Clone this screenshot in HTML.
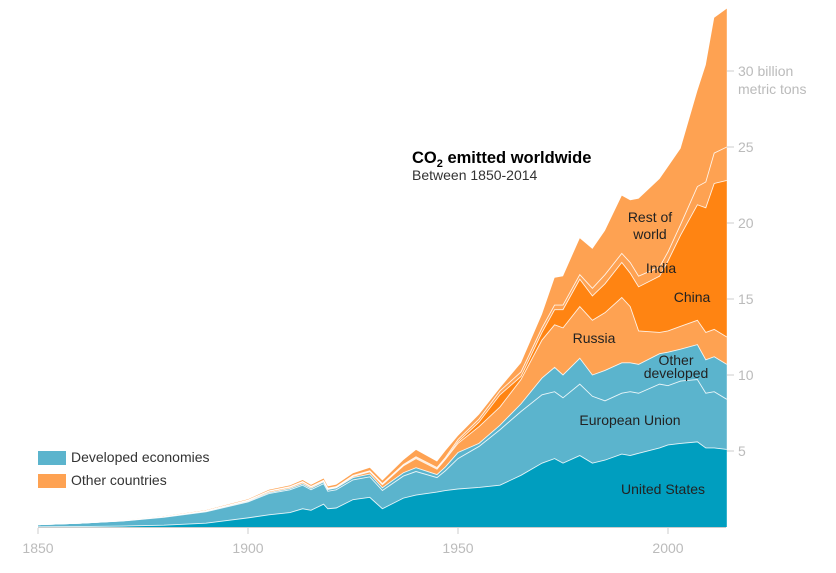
<!DOCTYPE html>
<html><head><meta charset="utf-8"><style>
body{margin:0;background:#fff;width:836px;height:568px;overflow:hidden;font-family:"Liberation Sans",sans-serif}
svg text{font-family:"Liberation Sans",sans-serif}
</style></head><body>
<svg id="chart" width="836" height="568"></svg>
<script>
const years=[1850,1860,1870,1880,1890,1900,1905,1910,1913,1915,1918,1919,1921,1925,1929,1932,1937,1940,1945,1947,1950,1955,1960,1965,1970,1973,1975,1979,1982,1985,1989,1991,1993,1998,2000,2003,2007,2009,2011,2014];
const usValues=[.01,.03,.06,.12,.25,.6,.8,.95,1.2,1.1,1.5,1.2,1.25,1.8,1.95,1.2,1.9,2.1,2.3,2.4,2.5,2.6,2.75,3.4,4.2,4.5,4.2,4.7,4.2,4.4,4.8,4.7,4.85,5.2,5.4,5.5,5.6,5.2,5.2,5.1];
const euValues=[.14,.22,.33,.52,.75,1.05,1.4,1.5,1.55,1.35,1.35,1.15,1.2,1.3,1.35,1.2,1.45,1.55,.95,1.3,2.0,2.7,3.65,4.2,4.5,4.4,4.3,4.7,4.4,3.9,4.0,4.2,3.95,4.2,3.9,4.1,4.1,3.6,3.7,3.3];
const otherDevValues=[0,.005,.01,.02,.03,.05,.07,.09,.1,.1,.12,.12,.12,.15,.18,.18,.22,.25,.2,.25,.4,.2,.3,.5,1.1,1.6,1.5,1.7,1.4,2.0,2.0,1.9,1.9,2.0,2.2,2.1,2.3,2.2,2.3,2.3];
const russiaValues=[0,0,.005,.01,.03,.05,.08,.08,.1,.08,.05,.03,.03,.08,.15,.2,.45,.6,.35,.5,.6,1.1,1.2,1.6,2.5,2.8,3.1,3.4,3.6,3.8,4.3,3.7,2.2,1.4,1.4,1.5,1.6,1.8,1.8,1.8];
const chinaValues=[0,0,0,0,0,.005,.01,.01,.01,.01,.02,.02,.02,.02,.03,.03,.04,.06,.05,.05,.1,.3,.8,.2,.5,1.0,1.2,1.8,1.6,1.9,2.3,2.2,2.9,3.7,4.6,6.0,7.6,8.2,9.6,10.3];
const indiaValues=[0,0,0,.005,.01,.02,.02,.03,.03,.03,.03,.03,.04,.04,.04,.05,.05,.06,.06,.07,.15,.2,.25,.3,.3,.3,.3,.3,.5,.6,.6,.7,.7,.6,.6,.7,1.2,1.7,2.0,2.2];
const restValues=[.01,.01,.02,.03,.04,.05,.07,.08,.1,.1,.12,.12,.13,.15,.2,.2,.3,.45,.4,.45,.25,.3,.2,.6,.9,1.8,1.9,2.4,2.6,2.9,3.8,4.1,5.1,5.8,5.6,5.0,6.3,7.7,8.9,9.1];
const yTicks=[5,10,15,20,25,30];
const xTicks=[1850,1900,1950,2000];

const NS="http://www.w3.org/2000/svg";
const svg=document.getElementById('chart');
const x=y=>38+(y-1850)*4.2;
const yS=v=>527-v*15.2;
function mk(t,a){const e=document.createElementNS(NS,t);for(const k in a)e.setAttribute(k,a[k]);svg.appendChild(e);return e;}

const series=[
 {name:'united-states',v:usValues,c:'#009ebf'},
 {name:'european-union',v:euValues,c:'#5bb4cd'},
 {name:'other-developed',v:otherDevValues,c:'#5bb4cd'},
 {name:'russia',v:russiaValues,c:'#fea252'},
 {name:'china',v:chinaValues,c:'#ff8412'},
 {name:'india',v:indiaValues,c:'#fea252'},
 {name:'rest-of-world',v:restValues,c:'#fea252'}
];
let base=years.map(()=>0);
const tops=[];
series.forEach(s=>{
  const top=base.map((b,i)=>b+s.v[i]);
  const up=years.map((yr,i)=>x(yr)+','+yS(top[i]));
  const dn=years.map((yr,i)=>x(yr)+','+yS(base[i])).reverse();
  const p=mk('polygon',{points:up.concat(dn).join(' '),fill:s.c});
  
  
  tops.push(up);
  base=top;
});
tops.forEach((up,i)=>{
  if(i===tops.length-1)return;
  const l=mk('polyline',{points:up.join(' '),fill:'none',stroke:'#fff','stroke-width':0.9,'stroke-opacity':0.85});
  
  
});
const ax=mk('line',{x1:38,x2:726,y1:527.5,y2:527.5,stroke:'#ccc'});


xTicks.forEach(t=>{
  const tk=mk('line',{x1:x(t),x2:x(t),y1:528,y2:534,stroke:'#ccc'});
  
  
  const tx=mk('text',{x:x(t),y:553,'text-anchor':'middle','font-size':14,fill:'#bbb'});
  tx.textContent=t;
  
  
});
yTicks.forEach(t=>{
  const tk=mk('line',{x1:727,x2:734,y1:yS(t),y2:yS(t),stroke:'#ccc'});
  
  
  const tx=mk('text',{x:738,y:yS(t)+5,'font-size':14,fill:'#bbb'});
  tx.textContent=t===30?'30 billion':t;
  
  
});
const unit=mk('text',{x:738,y:yS(30)+23,'font-size':14,fill:'#bbb'});
unit.textContent='metric tons';


</script>
<svg width="836" height="568" style="position:absolute;left:0;top:0">
<text x="412" y="163" font-size="16.5" font-weight="bold" fill="#000">CO<tspan font-size="11" dy="4">2</tspan><tspan dy="-4"> emitted worldwide</tspan></text>
<text x="412" y="180" font-size="14" fill="#333">Between 1850-2014</text>
<g font-size="14" fill="#222" text-anchor="middle">
<text x="650" y="222">Rest of</text>
<text x="650" y="239">world</text>
<text x="661" y="273">India</text>
<text x="692" y="302">China</text>
<text x="594" y="343">Russia</text>
<text x="676" y="365">Other</text>
<text x="676" y="378">developed</text>
<text x="630" y="425">European Union</text>
<text x="663" y="494">United States</text>
</g>
<rect x="38" y="451" width="28" height="14" fill="#5bb4cd"/>
<text x="71" y="462" font-size="14" fill="#333">Developed economies</text>
<rect x="38" y="474" width="28" height="14" fill="#fea252"/>
<text x="71" y="485" font-size="14" fill="#333">Other countries</text>
</svg>
</body></html>
